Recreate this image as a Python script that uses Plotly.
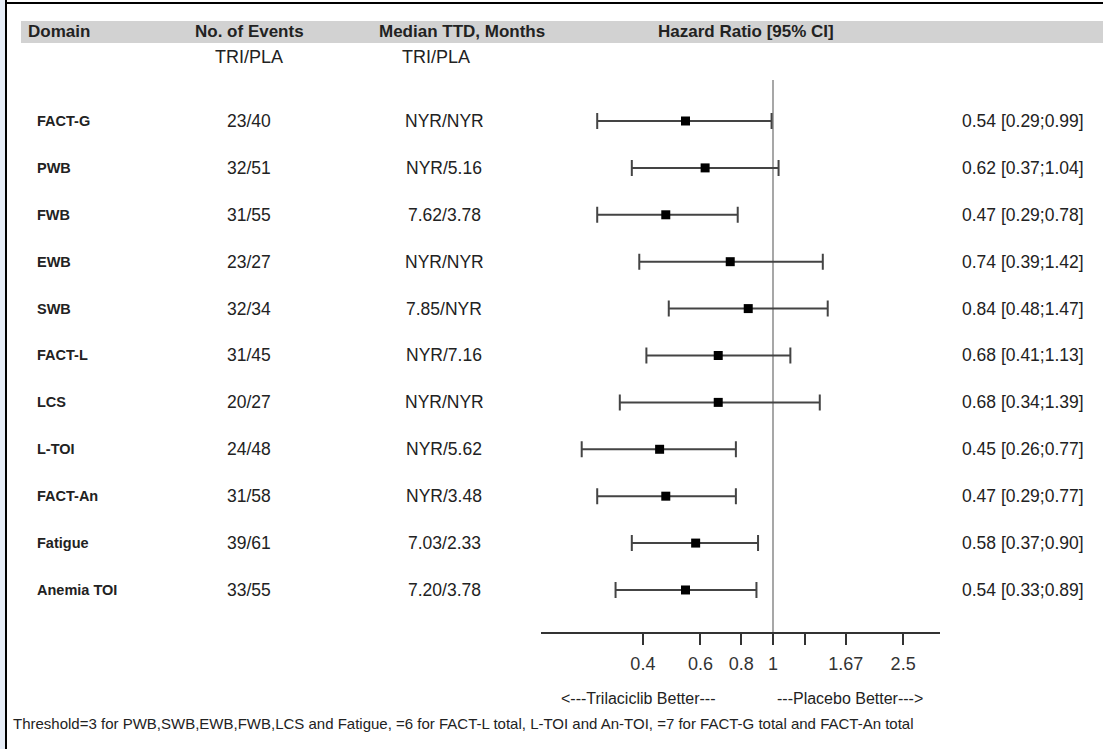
import plotly.graph_objects as go

domains = ["FACT-G", "PWB", "FWB", "EWB", "SWB", "FACT-L", "LCS", "L-TOI", "FACT-An", "Fatigue", "Anemia TOI"]
events = ["23/40", "32/51", "31/55", "23/27", "32/34", "31/45", "20/27", "24/48", "31/58", "39/61", "33/55"]
median_ttd = ["NYR/NYR", "NYR/5.16", "7.62/3.78", "NYR/NYR", "7.85/NYR", "NYR/7.16", "NYR/NYR", "NYR/5.62", "NYR/3.48", "7.03/2.33", "7.20/3.78"]
hr = [0.54, 0.62, 0.47, 0.74, 0.84, 0.68, 0.68, 0.45, 0.47, 0.58, 0.54]
ci_low = [0.29, 0.37, 0.29, 0.39, 0.48, 0.41, 0.34, 0.26, 0.29, 0.37, 0.33]
ci_high = [0.99, 1.04, 0.78, 1.42, 1.47, 1.13, 1.39, 0.77, 0.77, 0.90, 0.89]
tick_vals = [0.4, 0.6, 0.8, 1, 1.25, 1.67, 2.5]
tick_text = ["0.4", "0.6", "0.8", "1", "", "1.67", "2.5"]
headers = ["Domain", "No. of Events", "Median TTD, Months", "Hazard Ratio [95% CI]"]
subheader = "TRI/PLA"
favours = ["<---Trilaciclib Better---", "---Placebo Better--->"]
footnote = "Threshold=3 for PWB,SWB,EWB,FWB,LCS and Fatigue, =6 for FACT-L total, L-TOI and An-TOI, =7 for FACT-G total and FACT-An total"

FONT = "Liberation Sans Narrow, Arial Narrow, Liberation Sans, Arial, sans-serif"
TXT = "#222222"
W, H = 1103, 749

rows = list(range(len(domains)))
hr_labels = [f"{h:.2f} [{l:.2f};{u:.2f}]" for h, l, u in zip(hr, ci_low, ci_high)]

fig = go.Figure()
fig.add_trace(go.Scatter(
    x=hr, y=rows, mode="markers",
    marker=dict(symbol="square", size=9, color="black"),
    error_x=dict(type="data", symmetric=False,
                 array=[u - h for u, h in zip(ci_high, hr)],
                 arrayminus=[h - l for h, l in zip(hr, ci_low)],
                 color="#444444", thickness=2, width=8),
    showlegend=False, hoverinfo="skip",
))


def px_y(p):
    return 1 - p / H


ann = []
for i in rows:
    ann.append(dict(x=35 / W, y=i, xref="paper", yref="y", text=f"<b>{domains[i]}</b>",
                    xanchor="left", yanchor="middle", showarrow=False, font=dict(size=14.5, color=TXT)))
    ann.append(dict(x=249 / W, y=i, xref="paper", yref="y", text=events[i],
                    xanchor="center", yanchor="middle", showarrow=False, font=dict(size=17.5, color=TXT)))
    ann.append(dict(x=444 / W, y=i, xref="paper", yref="y", text=median_ttd[i],
                    xanchor="center", yanchor="middle", showarrow=False, font=dict(size=17.5, color=TXT)))
    ann.append(dict(x=1086 / W, y=i, xref="paper", yref="y", text=hr_labels[i],
                    xanchor="right", yanchor="middle", showarrow=False, font=dict(size=17.5, color=TXT)))

hy = px_y(32)
hdr = [
    dict(x=26 / W, text=f"<b>{headers[0]}</b>", xanchor="left"),
    dict(x=249 / W, text=f"<b>{headers[1]}</b>", xanchor="center"),
    dict(x=462 / W, text=f"<b>{headers[2]}</b>", xanchor="center"),
    dict(x=746 / W, text=f"<b>{headers[3]}</b>", xanchor="center"),
]
for a in hdr:
    a.update(y=hy, xref="paper", yref="paper", showarrow=False, yanchor="middle",
             font=dict(size=17, color=TXT))
ann += hdr

ann += [
    dict(x=249 / W, y=px_y(57), xref="paper", yref="paper", text=subheader, xanchor="center",
         yanchor="middle", showarrow=False, font=dict(size=18, color=TXT)),
    dict(x=436 / W, y=px_y(57), xref="paper", yref="paper", text=subheader, xanchor="center",
         yanchor="middle", showarrow=False, font=dict(size=18, color=TXT)),
    dict(x=638 / W, y=px_y(698), xref="paper", yref="paper", text=favours[0],
         xanchor="center", yanchor="middle", showarrow=False, font=dict(size=16, color=TXT)),
    dict(x=850 / W, y=px_y(698), xref="paper", yref="paper", text=favours[1],
         xanchor="center", yanchor="middle", showarrow=False, font=dict(size=16, color=TXT)),
    dict(x=11 / W, y=px_y(723), xref="paper", yref="paper", text=footnote,
         xanchor="left", yanchor="middle", showarrow=False, font=dict(size=15, color=TXT)),
]

shapes = [
    dict(type="rect", xref="paper", yref="paper", x0=0, x1=5 / W, y0=0, y1=1,
         fillcolor="#e6edf7", line=dict(width=0), layer="below"),
    dict(type="rect", xref="paper", yref="paper", x0=21 / W, x1=1, y0=px_y(43), y1=px_y(21),
         fillcolor="#d2d2d2", line=dict(width=0), layer="below"),
    dict(type="line", xref="paper", yref="paper", x0=6 / W, x1=6 / W, y0=0, y1=1,
         line=dict(color="black", width=2)),
    dict(type="line", xref="paper", yref="paper", x0=6 / W, x1=1, y0=px_y(3), y1=px_y(3),
         line=dict(color="black", width=2)),
    dict(type="line", xref="x", yref="paper", x0=1, x1=1, y0=px_y(632), y1=px_y(80),
         line=dict(color="#8a8a8a", width=1.5), layer="below"),
]

fig.update_layout(
    width=W, height=H,
    margin=dict(l=0, r=0, t=0, b=0),
    paper_bgcolor="white", plot_bgcolor="rgba(0,0,0,0)",
    font=dict(family=FONT, color=TXT),
    annotations=ann, shapes=shapes,
    xaxis=dict(type="log", range=[-0.7095, 0.5107], domain=[541 / W, 940 / W],
               tickvals=tick_vals, ticktext=tick_text,
               showline=True, linewidth=2, linecolor="#333333",
               ticks="outside", ticklen=11, tickwidth=2, tickcolor="#333333",
               ticklabelstandoff=3,
               tickfont=dict(size=18, color="#333333"),
               showgrid=False, zeroline=False),
    yaxis=dict(visible=False, range=[10.896, -2.58], domain=[px_y(632), 1]),
)

fig.write_html("out.html", config={"displayModeBar": False},
               post_script="document.body.style.margin='0';document.body.style.padding='0';")
